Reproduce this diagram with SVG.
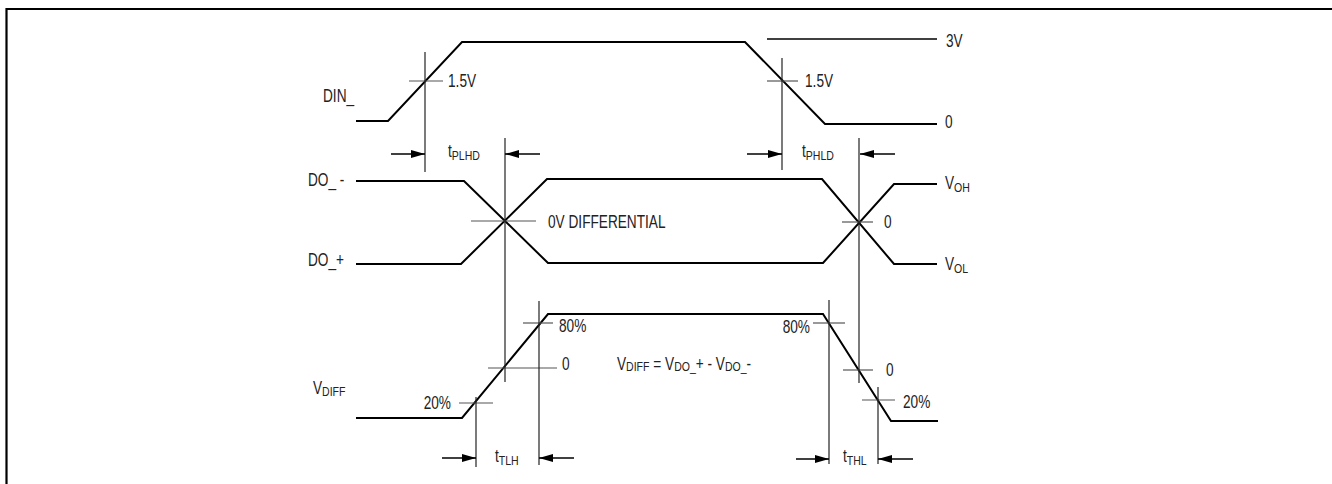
<svg xmlns="http://www.w3.org/2000/svg" width="1332" height="484" viewBox="0 0 1332 484">
<style>
  .sig { fill: none; stroke: #000; stroke-width: 2; stroke-linejoin: miter; }
  .ref { fill: none; stroke: #222; stroke-width: 1.2; }
  .tick { fill: none; stroke: #555; stroke-width: 1.2; }
  .arr { fill: none; stroke: #000; stroke-width: 1.6; marker-end: url(#ah); }
  text { font-family: "Liberation Sans", Arial, sans-serif; font-size: 17.5px; fill: #222; }
  .sub { font-size: 13.5px; }
</style>
<defs>
  <marker id="ah" markerUnits="userSpaceOnUse" markerWidth="14" markerHeight="8" refX="14" refY="4" orient="auto">
    <path d="M0,0 L14,4 L0,8 Z" fill="#000"/>
  </marker>
</defs>
<rect width="1332" height="484" fill="#fff"/>
<path d="M6.5,484 V9 H1332" fill="none" stroke="#000" stroke-width="2.2"/>

<g id="din">
  <polyline class="sig" points="356,121 388,121 462,42 745,42 825,124 937,124"/>
  <line class="sig" x1="767" y1="39" x2="937" y2="39" style="stroke-width:1.4"/>
  <line class="tick" x1="409" y1="81" x2="443" y2="81"/>
  <line class="tick" x1="767" y1="81" x2="798" y2="81"/>
  <text transform="translate(323,102) scale(0.78,1)">DIN_</text>
  <text transform="translate(448,87) scale(0.78,1)">1.5V</text>
  <text transform="translate(805,87) scale(0.78,1)">1.5V</text>
  <text transform="translate(946,47) scale(0.78,1)">3V</text>
  <text transform="translate(945,128) scale(0.78,1)">0</text>
</g>

<g id="do">
  <polyline class="sig" points="356,181 464,181 548,263 823,263 894,184 937,184"/>
  <polyline class="sig" points="356,264 461,264 547,179 822,179 894,264 937,264"/>
  <line class="tick" x1="471" y1="221" x2="536" y2="221"/>
  <line class="tick" x1="842" y1="222" x2="873" y2="222"/>
  <text transform="translate(308,186) scale(0.78,1)">DO_ -</text>
  <text transform="translate(308,266) scale(0.78,1)">DO_+</text>
  <text transform="translate(548,228) scale(0.78,1)">0V DIFFERENTIAL</text>
  <text transform="translate(884,228) scale(0.78,1)">0</text>
  <text transform="translate(945,189) scale(0.78,1)">V<tspan class="sub" dy="3">OH</tspan></text>
  <text transform="translate(945,270) scale(0.78,1)">V<tspan class="sub" dy="3">OL</tspan></text>
</g>

<g id="vdiff">
  <polyline class="sig" points="356,418 462,418 548,314 823,314 891,421 938,421"/>
  <line class="tick" x1="459" y1="403" x2="493" y2="403"/>
  <line class="tick" x1="488" y1="368" x2="557" y2="368"/>
  <line class="tick" x1="523" y1="323" x2="553" y2="323"/>
  <line class="tick" x1="813" y1="323" x2="845" y2="323"/>
  <line class="tick" x1="843" y1="370" x2="873" y2="370"/>
  <line class="tick" x1="862" y1="400" x2="895" y2="400"/>
  <text transform="translate(313,394) scale(0.78,1)">V<tspan class="sub" dy="2">DIFF</tspan></text>
  <text transform="translate(451,409) scale(0.78,1)" text-anchor="end">20%</text>
  <text transform="translate(562,370) scale(0.78,1)">0</text>
  <text transform="translate(559,332) scale(0.78,1)">80%</text>
  <text transform="translate(810,333) scale(0.78,1)" text-anchor="end">80%</text>
  <text transform="translate(886,376) scale(0.78,1)">0</text>
  <text transform="translate(903,408) scale(0.78,1)">20%</text>
  <text transform="translate(617,370) scale(0.78,1)">V<tspan class="sub" dy="1">DIFF</tspan><tspan dy="-1"> = V</tspan><tspan class="sub" dy="1">DO_</tspan><tspan dy="-1">+ - V</tspan><tspan class="sub" dy="1">DO_</tspan><tspan dy="-1">-</tspan></text>
</g>

<g id="timing">
  <line class="ref" x1="425" y1="52" x2="425" y2="172"/>
  <line class="ref" x1="782" y1="58" x2="782" y2="170"/>
  <line class="ref" x1="505" y1="138" x2="505" y2="382"/>
  <line class="ref" x1="859" y1="138" x2="859" y2="383"/>
  <line class="ref" x1="476" y1="397" x2="476" y2="467"/>
  <line class="ref" x1="539" y1="301" x2="539" y2="465"/>
  <line class="ref" x1="829" y1="300" x2="829" y2="464"/>
  <line class="ref" x1="878" y1="387" x2="878" y2="464"/>
  <text transform="translate(448,157) scale(0.78,1)">t<tspan class="sub" dy="3">PLHD</tspan></text>
  <text transform="translate(802,157) scale(0.78,1)">t<tspan class="sub" dy="3">PHLD</tspan></text>
  <text transform="translate(495,462) scale(0.78,1)">t<tspan class="sub" dy="3">TLH</tspan></text>
  <text transform="translate(843,462) scale(0.78,1)">t<tspan class="sub" dy="3">THL</tspan></text>
</g>

<g id="connectors">
  <line class="arr" x1="391" y1="154" x2="425" y2="154"/>
  <line class="arr" x1="540" y1="154" x2="505" y2="154"/>
  <line class="arr" x1="747" y1="154" x2="782" y2="154"/>
  <line class="arr" x1="895" y1="154" x2="860" y2="154"/>
  <line class="arr" x1="442" y1="458" x2="476" y2="458"/>
  <line class="arr" x1="574" y1="458" x2="539" y2="458"/>
  <line class="arr" x1="796" y1="459" x2="829" y2="459"/>
  <line class="arr" x1="913" y1="459" x2="878" y2="459"/>
</g>
</svg>
